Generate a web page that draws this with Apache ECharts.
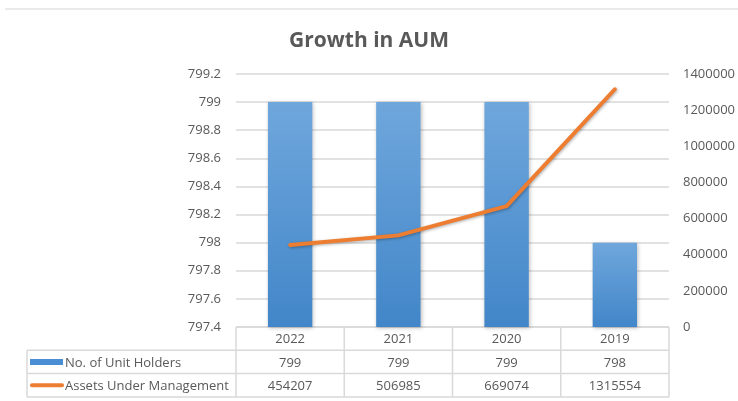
<!DOCTYPE html>
<html>
<head>
<meta charset="utf-8">
<script src="https://cdn.jsdelivr.net/npm/echarts@6/dist/echarts.min.js"></script>
<style>
  html, body { margin: 0; padding: 0; background: #fff; }
  #chart { width: 738px; height: 401px; }
</style>
</head>
<body>
<div id="chart"></div>
<script>
const years = ["2022", "2021", "2020", "2019"];
const unitHolders = [799, 799, 799, 798];
const aum = [454207, 506985, 669074, 1315554];
const seriesNames = ["No. of Unit Holders", "Assets Under Management"];

const W = 738, H = 401;
const gridLeft = 236, gridRight = 69, gridTop = 74, gridBottom = 74;
const plotW = W - gridLeft - gridRight;
const colW = plotW / years.length;
const tableTop = H - gridBottom;
const rowH = 23.3;
const labelLeft = 27;
const font = "Open Sans";
const textColor = "#595959";
const border = "#d9d9d9";

// data table below the plot
const table = [];
// horizontal lines
for (let r = 0; r <= 3; r++) {
  const y = tableTop + r * rowH;
  table.push({
    type: "line",
    shape: { x1: r === 0 ? gridLeft : labelLeft, y1: y, x2: gridLeft + plotW, y2: y },
    style: { stroke: border, lineWidth: 1.5 }
  });
}
// vertical lines
for (let c = 0; c <= years.length; c++) {
  const x = gridLeft + c * colW;
  table.push({
    type: "line",
    shape: { x1: x, y1: tableTop, x2: x, y2: tableTop + 3 * rowH },
    style: { stroke: border, lineWidth: 1.5 }
  });
}
table.push({
  type: "line",
  shape: { x1: labelLeft, y1: tableTop + rowH, x2: labelLeft, y2: tableTop + 3 * rowH },
  style: { stroke: border, lineWidth: 1.5 }
});
const rows = [years, unitHolders, aum];
rows.forEach((row, r) => {
  row.forEach((v, c) => {
    table.push({
      type: "text",
      x: gridLeft + (c + 0.5) * colW,
      y: tableTop + (r + 0.5) * rowH + 1,
      style: {
        text: String(v), fill: textColor, font: "13px '" + font + "'",
        textAlign: "center", textVerticalAlign: "middle"
      }
    });
  });
});
// legend keys in the table
table.push({
  type: "rect",
  shape: { x: 30, y: tableTop + 1.5 * rowH - 3, width: 33, height: 6 },
  style: { fill: "#4a8fd3" }
});
table.push({
  type: "line",
  shape: { x1: 32, y1: tableTop + 2.5 * rowH, x2: 62, y2: tableTop + 2.5 * rowH },
  style: { stroke: "#ed7d31", lineWidth: 4, lineCap: "round" }
});
seriesNames.forEach((n, i) => {
  table.push({
    type: "text",
    x: 65,
    y: tableTop + (1.5 + i) * rowH + 1,
    style: {
      text: n, fill: textColor, font: "13px '" + font + "'",
      textAlign: "left", textVerticalAlign: "middle"
    }
  });
});

const chart = echarts.init(document.getElementById("chart"));
chart.setOption({
  backgroundColor: "#fff",
  animation: false,
  title: {
    text: "Growth in AUM",
    left: "center",
    top: 26,
    textStyle: { color: textColor, fontFamily: font, fontSize: 21, fontWeight: "bold" }
  },
  grid: { left: gridLeft, right: gridRight, top: gridTop, bottom: gridBottom },
  xAxis: {
    type: "category",
    data: years,
    axisLine: { show: false },
    axisTick: { show: false },
    axisLabel: { show: false }
  },
  yAxis: [
    {
      type: "value",
      min: 797.4,
      max: 799.2,
      interval: 0.2,
      axisLine: { show: false },
      axisTick: { show: false },
      axisLabel: {
        color: textColor, fontFamily: font, fontSize: 13, margin: 15,
        formatter: v => String(Math.round(v * 10) / 10)
      },
      splitLine: { lineStyle: { color: border, width: 1.5 } }
    },
    {
      type: "value",
      min: 0,
      max: 1400000,
      interval: 200000,
      axisLine: { show: false },
      axisTick: { show: false },
      axisLabel: { color: textColor, fontFamily: font, fontSize: 13, margin: 14, formatter: v => String(v) },
      splitLine: { show: false }
    }
  ],
  series: [
    {
      name: seriesNames[0],
      type: "bar",
      data: unitHolders,
      barWidth: "41%",
      itemStyle: {
        color: new echarts.graphic.LinearGradient(0, 0, 0, 1, [
          { offset: 0, color: "#6fa7dc" },
          { offset: 1, color: "#4286c9" }
        ]),
        shadowColor: "rgba(0,0,0,0.25)",
        shadowBlur: 4,
        shadowOffsetX: 1,
        shadowOffsetY: 1
      }
    },
    {
      name: seriesNames[1],
      type: "line",
      yAxisIndex: 1,
      data: aum,
      symbol: "none",
      lineStyle: {
        color: "#ed7d31",
        width: 4,
        cap: "round",
        join: "round",
        shadowColor: "rgba(0,0,0,0.3)",
        shadowBlur: 3,
        shadowOffsetX: 1,
        shadowOffsetY: 1
      },
      z: 3
    }
  ],
  graphic: [
    {
      type: "line",
      shape: { x1: 5, y1: 9, x2: W, y2: 9 },
      style: { stroke: "#e3e3e3", lineWidth: 1.5 }
    },
    ...table
  ]
});
</script>
</body>
</html>
